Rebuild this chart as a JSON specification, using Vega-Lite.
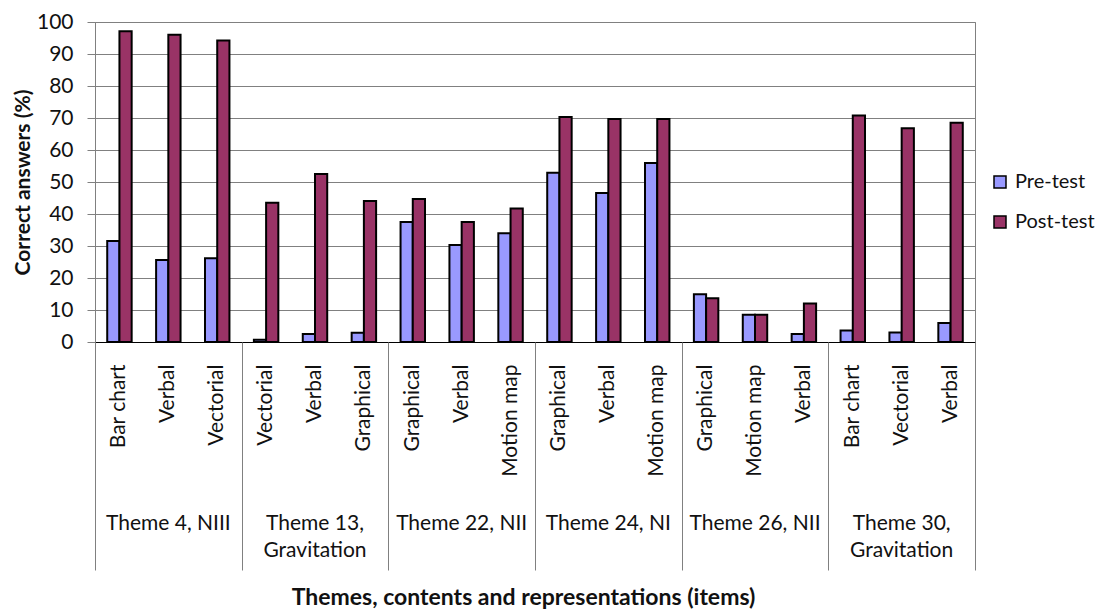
{
  "$schema": "https://vega.github.io/schema/vega-lite/v6.json",
  "width": 880,
  "height": 320,
  "autosize": {"type": "none"},
  "padding": {"left": 95, "top": 22, "right": 127, "bottom": 267},
  "background": "white",
  "config": {
    "font": "Lato",
    "view": {"stroke": "#808080", "strokeWidth": 1},
    "axis": {"labelFont": "Lato", "titleFont": "Lato", "labelColor": "#111", "titleColor": "#111"},
    "legend": {"labelFont": "Lato"}
  },
  "data": {
    "values": [
      {"theme": "Theme 4, NIII", "item": "Bar chart", "series": "Pre-test", "value": 31.6},
      {"theme": "Theme 4, NIII", "item": "Bar chart", "series": "Post-test", "value": 97.1},
      {"theme": "Theme 4, NIII", "item": "Verbal", "series": "Pre-test", "value": 25.6},
      {"theme": "Theme 4, NIII", "item": "Verbal", "series": "Post-test", "value": 96.0},
      {"theme": "Theme 4, NIII", "item": "Vectorial", "series": "Pre-test", "value": 26.2},
      {"theme": "Theme 4, NIII", "item": "Vectorial", "series": "Post-test", "value": 94.2},
      {"theme": "Theme 13, Gravitation", "item": "Vectorial", "series": "Pre-test", "value": 0.7},
      {"theme": "Theme 13, Gravitation", "item": "Vectorial", "series": "Post-test", "value": 43.5},
      {"theme": "Theme 13, Gravitation", "item": "Verbal", "series": "Pre-test", "value": 2.5},
      {"theme": "Theme 13, Gravitation", "item": "Verbal", "series": "Post-test", "value": 52.5},
      {"theme": "Theme 13, Gravitation", "item": "Graphical", "series": "Pre-test", "value": 2.9},
      {"theme": "Theme 13, Gravitation", "item": "Graphical", "series": "Post-test", "value": 44.1},
      {"theme": "Theme 22, NII", "item": "Graphical", "series": "Pre-test", "value": 37.5},
      {"theme": "Theme 22, NII", "item": "Graphical", "series": "Post-test", "value": 44.7},
      {"theme": "Theme 22, NII", "item": "Verbal", "series": "Pre-test", "value": 30.3},
      {"theme": "Theme 22, NII", "item": "Verbal", "series": "Post-test", "value": 37.5},
      {"theme": "Theme 22, NII", "item": "Motion map", "series": "Pre-test", "value": 34.0},
      {"theme": "Theme 22, NII", "item": "Motion map", "series": "Post-test", "value": 41.7},
      {"theme": "Theme 24, NI", "item": "Graphical", "series": "Pre-test", "value": 52.9},
      {"theme": "Theme 24, NI", "item": "Graphical", "series": "Post-test", "value": 70.3},
      {"theme": "Theme 24, NI", "item": "Verbal", "series": "Pre-test", "value": 46.6},
      {"theme": "Theme 24, NI", "item": "Verbal", "series": "Post-test", "value": 69.7},
      {"theme": "Theme 24, NI", "item": "Motion map", "series": "Pre-test", "value": 55.9},
      {"theme": "Theme 24, NI", "item": "Motion map", "series": "Post-test", "value": 69.7},
      {"theme": "Theme 26, NII", "item": "Graphical", "series": "Pre-test", "value": 14.9},
      {"theme": "Theme 26, NII", "item": "Graphical", "series": "Post-test", "value": 13.7},
      {"theme": "Theme 26, NII", "item": "Motion map", "series": "Pre-test", "value": 8.5},
      {"theme": "Theme 26, NII", "item": "Motion map", "series": "Post-test", "value": 8.5},
      {"theme": "Theme 26, NII", "item": "Verbal", "series": "Pre-test", "value": 2.5},
      {"theme": "Theme 26, NII", "item": "Verbal", "series": "Post-test", "value": 12.0},
      {"theme": "Theme 30, Gravitation", "item": "Bar chart", "series": "Pre-test", "value": 3.6},
      {"theme": "Theme 30, Gravitation", "item": "Bar chart", "series": "Post-test", "value": 70.8},
      {"theme": "Theme 30, Gravitation", "item": "Vectorial", "series": "Pre-test", "value": 3.0},
      {"theme": "Theme 30, Gravitation", "item": "Vectorial", "series": "Post-test", "value": 66.8},
      {"theme": "Theme 30, Gravitation", "item": "Verbal", "series": "Pre-test", "value": 5.9},
      {"theme": "Theme 30, Gravitation", "item": "Verbal", "series": "Post-test", "value": 68.5}
    ]
  },
  "transform": [{"calculate": "datum.theme + '|' + datum.item", "as": "key"}],
  "encoding": {
    "y": {
      "field": "value",
      "type": "quantitative",
      "scale": {"domain": [0, 100], "nice": false},
      "axis": {
        "title": "Correct answers (%)",
        "titleFontSize": 21,
        "titleFontWeight": "bold",
        "titlePadding": 3,
        "values": [0, 10, 20, 30, 40, 50, 60, 70, 80, 90, 100],
        "labelFontSize": 21,
        "labelPadding": 14,
        "tickSize": 8,
        "tickColor": "#808080",
        "domainColor": "#808080",
        "gridColor": "#808080",
        "gridWidth": 1,
        "grid": true
      }
    }
  },
  "layer": [
    {
      "mark": {"type": "bar", "stroke": "black", "strokeWidth": 2},
      "encoding": {
        "x": {
          "field": "key",
          "type": "nominal",
          "sort": null,
          "scale": {"paddingInner": 0.5, "paddingOuter": 0.25},
          "axis": {
            "orient": "bottom",
            "title": null,
            "labelExpr": "split(datum.label, '|')[1]",
            "labelAngle": -90,
            "labelAlign": "right",
            "labelBaseline": "middle",
            "labelFontSize": 21,
            "labelPadding": 22,
            "ticks": false,
            "domainColor": "black",
            "grid": false
          }
        },
        "xOffset": {"field": "series", "type": "nominal", "sort": ["Pre-test", "Post-test"]},
        "color": {
          "field": "series",
          "type": "nominal",
          "sort": ["Pre-test", "Post-test"],
          "scale": {"domain": ["Pre-test", "Post-test"], "range": ["#9999FF", "#993366"]},
          "legend": {
            "title": null,
            "orient": "none",
            "legendX": 895,
            "legendY": 150,
            "symbolType": "square",
            "symbolSize": 144,
            "symbolStrokeColor": "black",
            "symbolStrokeWidth": 1.5,
            "symbolOpacity": 1,
            "labelFontSize": 20,
            "labelColor": "#111",
            "labelOffset": 5,
            "rowPadding": 20
          }
        }
      }
    },
    {
      "mark": {"type": "rule", "strokeOpacity": 0},
      "encoding": {
        "x": {
          "field": "theme",
          "type": "nominal",
          "sort": null,
          "scale": {"paddingInner": 0, "paddingOuter": 0},
          "axis": {
            "orient": "bottom",
            "title": null,
            "labelAngle": 0,
            "labelAlign": "center",
            "labelBaseline": "top",
            "labelFontSize": 21,
            "labelLineHeight": 27,
            "labelPadding": 170,
            "labelExpr": "length(datum.label) > 16 ? [slice(datum.label, 0, indexof(datum.label, ',') + 1), slice(datum.label, indexof(datum.label, ',') + 2)] : datum.label",
            "ticks": false,
            "domain": false,
            "grid": false
          }
        }
      }
    },
    {
      "mark": {"type": "rule", "strokeOpacity": 0},
      "encoding": {
        "x": {
          "datum": 0,
          "type": "quantitative",
          "scale": {"domain": [0, 6], "nice": false, "zero": true},
          "axis": {
            "orient": "bottom",
            "title": "Themes, contents and representations (items)",
            "titleFontSize": 23,
            "titleFontWeight": "bold",
            "titlePadding": 44,
            "titleX": 428,
            "titleAnchor": "middle",
            "values": [0, 1, 2, 3, 4, 5, 6],
            "labels": false,
            "ticks": true,
            "tickSize": 228,
            "tickColor": "#808080",
            "domain": false,
            "grid": false
          }
        }
      }
    }
  ],
  "resolve": {"scale": {"x": "independent"}, "axis": {"x": "independent"}}
}
